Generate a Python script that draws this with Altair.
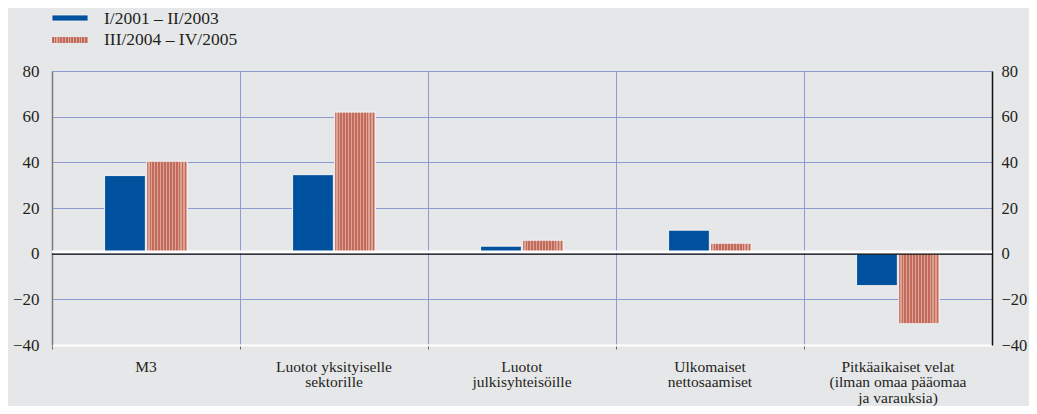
import altair as alt
import pandas as pd

categories = [
    "M3",
    "Luotot yksityiselle|sektorille",
    "Luotot|julkisyhteisöille",
    "Ulkomaiset|nettosaamiset",
    "Pitkäaikaiset velat|(ilman omaa pääomaa|ja varauksia)",
]
series_names = ["I/2001 – II/2003", "III/2004 – IV/2005"]
values_2001_2003 = [34.2, 34.6, 3.3, 10.3, -14.0]
values_2004_2005 = [40.5, 62.0, 5.9, 4.6, -30.7]
y_ticks = [-40, -20, 0, 20, 40, 60, 80]

BLUE = "#00529f"
DARK_RED = "#c26a5c"
LIGHT_RED = "#dca395"
BG = "#e6e7e9"
GRID = "#8e9bd3"
TXT = "#231f20"
FONT = "Liberation Serif"


def stripes(n):
    stops = []
    for i in range(n):
        a = i / n
        m = (i + 0.62) / n
        b = (i + 1) / n
        stops += [
            alt.GradientStop(offset=a, color=DARK_RED),
            alt.GradientStop(offset=m, color=DARK_RED),
            alt.GradientStop(offset=m, color=LIGHT_RED),
            alt.GradientStop(offset=b, color=LIGHT_RED),
        ]
    return alt.LinearGradient(gradient="linear", stops=stops, x1=0, x2=1, y1=0, y2=0)


rows = []
for c, v1, v2 in zip(categories, values_2001_2003, values_2004_2005):
    rows.append({"cat": c, "series": series_names[0], "value": v1})
    rows.append({"cat": c, "series": series_names[1], "value": v2})
df = pd.DataFrame(rows)

ydomain = [-40, 80]
offset_domain = ["_gap1", series_names[0], series_names[1], "_gap2"]

xaxis = alt.Axis(
    title=None,
    bandPosition=0,
    labelAngle=0,
    labelExpr="split(datum.label, '|')",
    labelFont=FONT,
    labelFontSize=15.5,
    labelColor=TXT,
    labelPadding=10,
    labelLineHeight=15.5,
    labelBaseline="top",
    labelLimit=0,
    labelOverlap=False,
    grid=True,
    gridColor=GRID,
    gridWidth=1,
    domainColor="#ffffff",
    domainWidth=2,
    tickColor="#666666",
    tickSize=4,
)

xenc = alt.X(
    "cat:N",
    sort=categories,
    scale=alt.Scale(domain=categories, paddingInner=0, paddingOuter=0),
    axis=xaxis,
)
xoff = alt.XOffset(
    "series:N",
    scale=alt.Scale(domain=offset_domain, paddingInner=0.03, paddingOuter=0.25),
)

base = alt.Chart(df)

blue = base.transform_filter(alt.datum.series == series_names[0]).mark_bar(
    color=BLUE, stroke="#f2f2f2", strokeWidth=1
).encode(
    x=xenc,
    xOffset=xoff,
    y=alt.Y(
        "value:Q",
        scale=alt.Scale(domain=ydomain, nice=False),
        axis=alt.Axis(
            title=None,
            orient="left",
            values=y_ticks,
            grid=True,
            gridColor=GRID,
            gridWidth=1,
            tickSize=0,
            labelPadding=13,
            labelFont=FONT,
            labelFontSize=17,
            labelColor=TXT,
            domainColor="#7a7a7a",
            domainWidth=1.5,
        ),
    ),
)

red = base.transform_filter(alt.datum.series == series_names[1]).mark_bar(
    color=stripes(14), stroke="#f2f2f2", strokeWidth=1
).encode(
    x=xenc,
    xOffset=xoff,
    y=alt.Y(
        "value:Q",
        scale=alt.Scale(domain=ydomain, nice=False),
        axis=alt.Axis(
            title=None,
            orient="right",
            values=y_ticks,
            grid=False,
            tickSize=0,
            labelPadding=9,
            labelFont=FONT,
            labelFontSize=16.5,
            labelColor=TXT,
            domainColor="#111111",
            domainWidth=1.5,
        ),
    ),
)

zero_df = pd.DataFrame({"v": [0]})
zero_white = alt.Chart(zero_df).mark_rule(color="#ffffff", strokeWidth=2.5, yOffset=-2).encode(
    y=alt.Y("v:Q", scale=alt.Scale(domain=ydomain, nice=False), axis=None)
)
zero_black = alt.Chart(zero_df).mark_rule(color="#111111", strokeWidth=1.3, yOffset=0.5).encode(
    y=alt.Y("v:Q", scale=alt.Scale(domain=ydomain, nice=False), axis=None)
)

leg_blue = alt.Chart(pd.DataFrame({"s": [series_names[0]]})).mark_rect(
    color=BLUE, stroke="#f2f2f2", strokeWidth=0.8
).encode(x=alt.value(0), x2=alt.value(36), y=alt.value(-56), y2=alt.value(-50))
leg_red = alt.Chart(pd.DataFrame({"s": [series_names[1]]})).mark_rect(
    color=stripes(13)
).encode(x=alt.value(0), x2=alt.value(36), y=alt.value(-34), y2=alt.value(-28))
leg_text = alt.Chart(pd.DataFrame({"s": series_names, "yy": [-52, -31]})).mark_text(
    align="left", baseline="middle", font=FONT, fontSize=17.5, color=TXT
).encode(x=alt.value(52), y=alt.Y("yy:Q", scale=None, axis=None), text="s:N")

chart = (
    alt.layer(blue, red, zero_white, zero_black, leg_blue, leg_red, leg_text)
    .resolve_scale(y="independent")
    .properties(
        width=940,
        height=274,
        background=BG,
        autosize=alt.AutoSizeParams(type="none"),
        padding={"left": 44, "top": 63, "right": 37, "bottom": 61},
    )
    .configure_view(stroke=None)
)

chart.save("out.html", embed_options={"renderer": "svg", "actions": False})
